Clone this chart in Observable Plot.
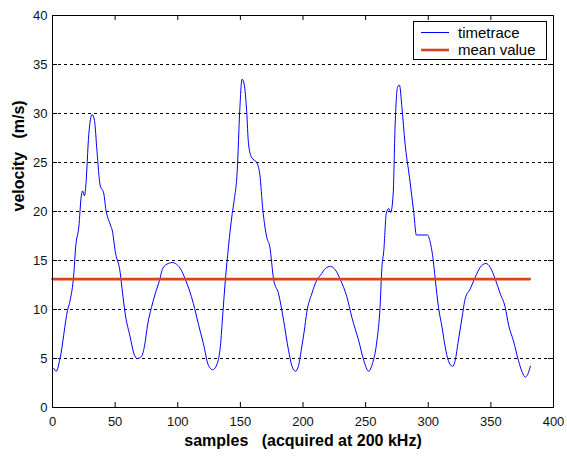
<!DOCTYPE html>
<html>
<head>
<meta charset="utf-8">
<script src="https://cdn.jsdelivr.net/npm/d3@7"></script>
<script src="https://cdn.jsdelivr.net/npm/@observablehq/plot@0.6"></script>
<style>
  html, body { margin: 0; padding: 0; background: #fff; }
  #chart { width: 567px; height: 456px; }
</style>
</head>
<body>
<div id="chart"></div>
<script>
// ---- data ----
const samples = [1, 3, 6, 12, 14, 17, 18.5, 21, 23, 24, 25.5, 26.5, 29, 31.5, 33.5, 35.5, 38, 41, 42.5, 46, 48, 50, 54, 56, 58, 62, 65, 67.5, 71, 73.5, 76, 79, 82, 85.5, 88, 92.5, 96, 98, 102, 106, 112.5, 116.5, 120.5, 124.5, 128, 131.5, 134, 136, 138, 140.5, 143.5, 145, 147.5, 149.5, 151.3, 153, 155, 156.5, 159, 163, 165.5, 168, 171, 173.5, 176.5, 180.5, 184.5, 188.5, 191, 194, 196.5, 199, 201, 203, 207, 211, 214, 218, 222, 226, 230, 235, 239, 244.5, 248.5, 252.5, 255, 259, 261.5, 263, 264.5, 266.5, 268.5, 270, 272, 273.5, 275.5, 277, 279, 281.5, 285, 288.5, 290.5, 299.5, 301.5, 304, 305.5, 308.2, 311, 313.5, 316, 319.5, 321.5, 324, 327, 329.5, 333.5, 337.5, 341.5, 346, 349.5, 353.5, 357.5, 361.5, 364, 368, 372, 375, 377.5, 379.5, 381.5];
const velocity = [4.0, 3.7, 5.0, 9.9, 10.9, 13.6, 16.4, 18.4, 21.6, 22.1, 21.6, 22.5, 27.9, 29.9, 29.3, 26.2, 22.7, 21.8, 20.3, 18.7, 17.9, 16.0, 13.8, 11.6, 9.6, 7.2, 5.5, 5.0, 5.2, 6.3, 8.5, 10.2, 11.6, 13.0, 14.2, 14.7, 14.8, 14.7, 14.2, 13.1, 10.6, 8.5, 6.5, 4.3, 3.85, 4.5, 6.2, 9.6, 13.0, 16.4, 19.8, 21.1, 24.2, 30.3, 33.5, 33.0, 30.3, 26.9, 25.5, 25.0, 23.8, 20.1, 17.4, 16.4, 13.1, 11.6, 8.9, 5.8, 4.3, 3.7, 4.3, 6.2, 7.8, 9.7, 11.6, 13.0, 13.5, 14.2, 14.4, 14.0, 13.0, 11.3, 9.2, 6.8, 4.8, 3.7, 4.3, 6.8, 10.2, 14.3, 16.0, 19.8, 20.3, 19.9, 21.8, 28.6, 32.7, 32.9, 30.6, 26.9, 23.5, 19.8, 17.6, 17.6, 16.9, 15.0, 13.2, 10.2, 8.2, 6.2, 4.8, 4.2, 4.8, 6.8, 9.2, 11.1, 12.1, 13.3, 14.3, 14.7, 14.3, 13.1, 11.6, 10.2, 8.5, 6.8, 4.8, 3.6, 3.1, 3.4, 4.2];
const meanValue = 13.1;
const meanRange = [0, 381];
const xTicks = [0, 50, 100, 150, 200, 250, 300, 350, 400];
const yTicks = [0, 5, 10, 15, 20, 25, 30, 35, 40];
const yGrid = [5, 10, 15, 20, 25, 30, 35];
const seriesNames = ["timetrace", "mean value"];
const seriesColors = ["#0000ff", "#d8441c"];
const xLabel = "samples   (acquired at 200 kHz)";
const yLabel = "velocity   (m/s)";

// ---- build ----
const trace = samples.map((s, i) => ({x: s, y: velocity[i]}));
const meanLine = meanRange.map(x => ({x, y: meanValue}));

const W = 567, H = 456;
const mL = 52, mR = 14, mT = 15, mB = 49;
const pw = W - mL - mR, ph = H - mT - mB;
const font = "'Liberation Sans', Arial, Helvetica, sans-serif";

const chart = Plot.plot({
  width: W,
  height: H,
  marginLeft: mL,
  marginRight: mR,
  marginTop: mT,
  marginBottom: mB,
  style: {fontFamily: font, fontSize: "13px", background: "#fff", color: "#111"},
  x: {domain: [0, 400]},
  y: {domain: [0, 40]},
  marks: [
    Plot.ruleY(yGrid, {y: d => d, stroke: "#000", strokeDasharray: "3,3", strokeWidth: 1}),
    Plot.axisX({ticks: xTicks, tickSize: 0, tickPadding: 9, label: null, tickFormat: d => String(d)}),
    Plot.axisY({ticks: yTicks, tickSize: 0, tickPadding: 5, label: null, tickFormat: d => String(d)}),
    Plot.tickX(xTicks, {x: d => d, insetTop: ph - 5, stroke: "#000"}),
    Plot.tickX(xTicks, {x: d => d, insetBottom: ph - 5, stroke: "#000"}),
    Plot.tickY(yTicks, {y: d => d, insetRight: pw - 5, stroke: "#000"}),
    Plot.tickY(yTicks, {y: d => d, insetLeft: pw - 5, stroke: "#000"}),
    Plot.line(trace, {x: "x", y: "y", stroke: seriesColors[0], strokeWidth: 1, curve: "monotone-x"}),
    Plot.line(meanLine, {x: "x", y: "y", stroke: seriesColors[1], strokeWidth: 2.6}),
    Plot.frame({stroke: "#000", strokeWidth: 1}),
    Plot.text([xLabel], {frameAnchor: "bottom", dy: 38, text: d => d, fontWeight: "bold", fontSize: 16, fill: "#000"}),
    Plot.text([yLabel], {frameAnchor: "left", dx: -34, rotate: -90, text: d => d, fontWeight: "bold", fontSize: 16, fill: "#000"})
  ]
});

// legend inside the plot area (top-right)
const svg = d3.select(chart);
const lg = svg.append("g").attr("font-family", font).attr("font-size", 15).attr("text-anchor", "start");
lg.append("rect").attr("x", 413.5).attr("y", 21.5).attr("width", 133).attr("height", 38)
  .attr("fill", "#fff").attr("stroke", "#000");
seriesNames.forEach((name, i) => {
  const cy = 32.5 + i * 17.5;
  lg.append("line").attr("x1", 421).attr("x2", 449).attr("y1", cy).attr("y2", cy)
    .attr("stroke", seriesColors[i]).attr("stroke-width", i === 0 ? 1 : 2.6);
  lg.append("text").attr("x", 458).attr("y", cy).attr("dy", "0.35em")
    .attr("text-anchor", "start").attr("fill", "#000").text(name);
});

document.getElementById("chart").appendChild(chart);
</script>
</body>
</html>
